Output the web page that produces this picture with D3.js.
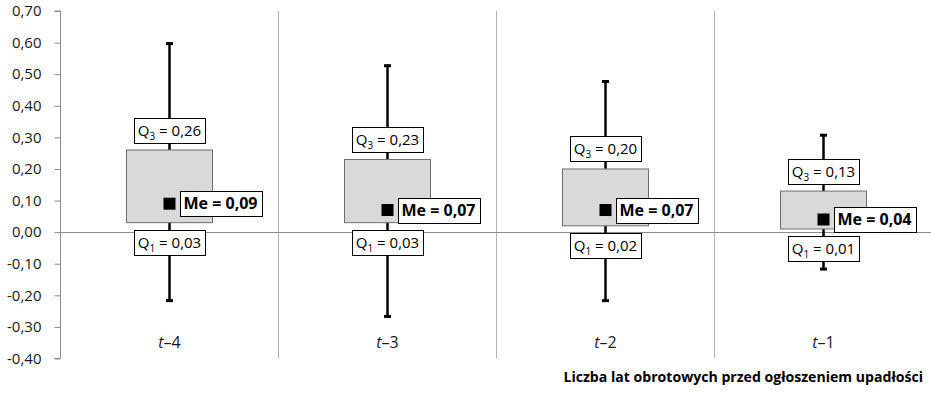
<!DOCTYPE html>
<html>
<head>
<meta charset="utf-8">
<script src="https://cdn.jsdelivr.net/npm/d3@7"></script>
<style>
  html, body { margin: 0; padding: 0; background: #fff; }
  svg { display: block; font-family: "Open Sans", "Noto Sans", sans-serif; }
</style>
</head>
<body>
<svg id="chart" width="931" height="395"></svg>
<script>
// Years before the bankruptcy filing
const categories = ["4", "3", "2", "1"];
// Box-plot statistics per year
const maxValues = [0.60, 0.53, 0.48, 0.31];
const q3Values = [0.26, 0.23, 0.20, 0.13];
const medianValues = [0.09, 0.07, 0.07, 0.04];
const q1Values = [0.03, 0.03, 0.02, 0.01];
const minValues = [-0.22, -0.27, -0.22, -0.12];
// Value axis ticks
const yTicks = [0.70, 0.60, 0.50, 0.40, 0.30, 0.20, 0.10, 0.00, -0.10, -0.20, -0.30, -0.40];
const xTitle = "Liczba lat obrotowych przed ogłoszeniem upadłości";

const svg = d3.select("#chart");
const plotLeft = 60, plotRight = 932, plotTop = 11, plotBottom = 358.5;

const plFormat = d3.formatLocale({
  decimal: ",", thousands: " ", grouping: [3], currency: ["", " zł"], minus: "-"
}).format(".2f");

const x = d3.scaleBand().domain(categories).range([plotLeft, plotRight]).padding(0);
const y = d3.scaleLinear().domain([-0.4, 0.7]).range([plotBottom, plotTop]);

const axisGray = "#8c8c8c";

// Category separators
svg.append("g").selectAll("line")
  .data(categories.slice(1))
  .join("line")
  .attr("x1", d => Math.round(x(d)) + 0.5)
  .attr("x2", d => Math.round(x(d)) + 0.5)
  .attr("y1", plotTop).attr("y2", plotBottom)
  .attr("stroke", "#b3b3b3").attr("stroke-width", 1);

// Value axis
const yAxis = svg.append("g")
  .attr("transform", `translate(${plotLeft + 0.5},0)`)
  .call(d3.axisLeft(y).tickValues(yTicks).tickSize(6).tickPadding(13).tickFormat(plFormat));
yAxis.select(".domain").attr("stroke", axisGray).attr("d", `M-6,${y(0.7)}H0V${y(-0.4)}H-6`);
yAxis.selectAll(".tick line").attr("stroke", axisGray);
yAxis.selectAll(".tick text")
  .attr("fill", "#1a1a1a")
  .style("font-size", "15px")
  .style("font-family", "'Open Sans', 'Noto Sans', sans-serif");

// Zero line
svg.append("line")
  .attr("x1", plotLeft).attr("x2", plotRight)
  .attr("y1", Math.round(y(0)) + 0.5).attr("y2", Math.round(y(0)) + 0.5)
  .attr("stroke", axisGray).attr("stroke-width", 1);

const stats = categories.map((c, i) => ({
  c, max: maxValues[i], q3: q3Values[i], med: medianValues[i], q1: q1Values[i], min: minValues[i]
}));
const cx = d => x(d.c) + x.bandwidth() / 2 + 0.5;
const boxW = 86;

// Whiskers
const g = svg.append("g");
g.selectAll("line.whisker").data(stats).join("line")
  .attr("class", "whisker")
  .attr("x1", cx).attr("x2", cx)
  .attr("y1", d => y(d.max)).attr("y2", d => y(d.min))
  .attr("stroke", "#000").attr("stroke-width", 2.5);
g.selectAll("line.capTop").data(stats).join("line")
  .attr("class", "capTop")
  .attr("x1", d => cx(d) - 3.5).attr("x2", d => cx(d) + 3.5)
  .attr("y1", d => y(d.max) + 1).attr("y2", d => y(d.max) + 1)
  .attr("stroke", "#000").attr("stroke-width", 3);
g.selectAll("line.capBot").data(stats).join("line")
  .attr("class", "capBot")
  .attr("x1", d => cx(d) - 3.5).attr("x2", d => cx(d) + 3.5)
  .attr("y1", d => y(d.min) - 1).attr("y2", d => y(d.min) - 1)
  .attr("stroke", "#000").attr("stroke-width", 3);

// Boxes (Q1..Q3)
g.selectAll("rect.box").data(stats).join("rect")
  .attr("class", "box")
  .attr("x", d => cx(d) - boxW / 2)
  .attr("width", boxW)
  .attr("y", d => y(d.q3))
  .attr("height", d => y(d.q1) - y(d.q3))
  .attr("fill", "#d9d9d9").attr("stroke", "#6e6e6e").attr("stroke-width", 1);

// Median markers
g.selectAll("rect.med").data(stats).join("rect")
  .attr("class", "med")
  .attr("x", d => cx(d) - 6).attr("y", d => y(d.med) - 6)
  .attr("width", 12).attr("height", 12)
  .attr("fill", "#000");

// Boxed label helper
function boxedLabel(parent, xPos, yMid, anchor, build, padX) {
  const lg = parent.append("g");
  const rect = lg.append("rect").attr("fill", "#fff").attr("stroke", "#000").attr("stroke-width", 1);
  const t = lg.append("text").attr("y", yMid + 5.5).attr("fill", "#000");
  build(t);
  const bb = t.node().getBBox();
  const w = bb.width + padX * 2, h = 25;
  const x0 = anchor === "middle" ? xPos - w / 2 : xPos;
  t.attr("x", x0 + padX);
  rect.attr("x", Math.round(x0) + 0.5).attr("y", Math.round(yMid - h / 2) + 0.5)
    .attr("width", Math.round(w)).attr("height", h);
}

function quartileText(sub, v) {
  return t => {
    t.style("font-size", "15px");
    t.append("tspan").text("Q");
    t.append("tspan").attr("dy", 4).style("font-size", "10px").text(sub);
    t.append("tspan").attr("dy", -4).text(" = " + plFormat(v));
  };
}

const labels = svg.append("g");
stats.forEach(d => {
  boxedLabel(labels, cx(d), y(d.q3) - 20, "middle", quartileText("3", d.q3), 4);
  boxedLabel(labels, cx(d), y(d.q1) + 20, "middle", quartileText("1", d.q1), 4);
  boxedLabel(labels, cx(d) + 10, y(d.med), "start", t => {
    t.style("font-size", "16px").style("font-weight", "700").text("Me = " + plFormat(d.med));
  }, 4);
});

// Category labels
svg.append("g").selectAll("text").data(categories).join("text")
  .attr("x", d => x(d) + x.bandwidth() / 2 + 0.5)
  .attr("y", 348)
  .attr("text-anchor", "middle")
  .style("font-size", "16px")
  .attr("fill", "#1a1a1a")
  .each(function (d) {
    const t = d3.select(this);
    t.append("tspan").style("font-style", "italic").text("t");
    t.append("tspan").text("\u2013" + d);
  });

// Axis title
svg.append("text")
  .attr("x", 923).attr("y", 382)
  .attr("text-anchor", "end")
  .style("font-size", "14.1px").style("font-weight", "700")
  .attr("fill", "#000")
  .text(xTitle);
</script>
</body>
</html>
